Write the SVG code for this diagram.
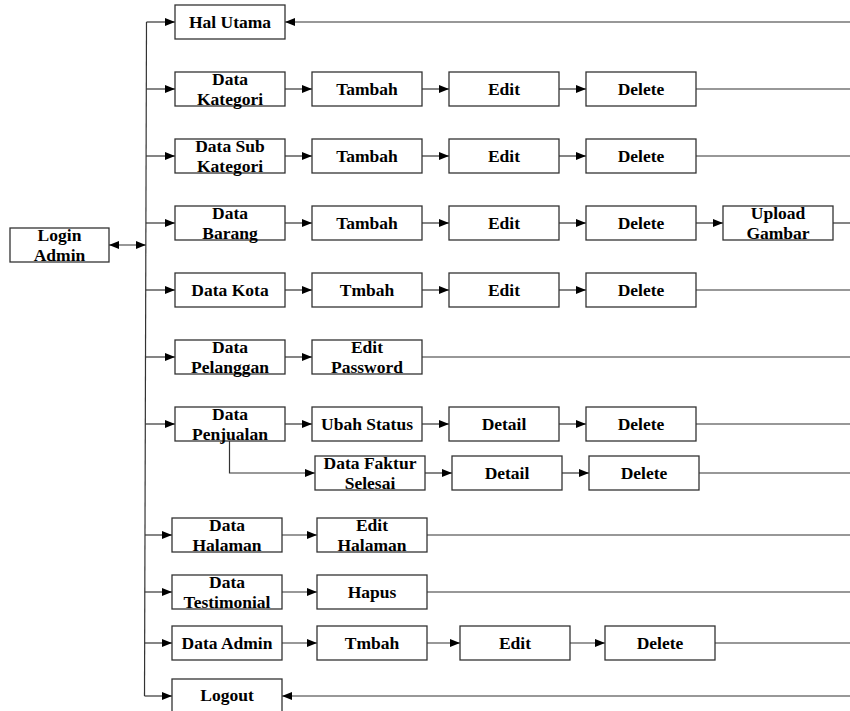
<svg xmlns="http://www.w3.org/2000/svg" width="850" height="711" viewBox="0 0 850 711">
<defs>
<marker id="arr" markerUnits="userSpaceOnUse" markerWidth="10" markerHeight="8" refX="10" refY="4" orient="auto-start-reverse">
<path d="M0,0 L10,4 L0,8 z" fill="#000"/>
</marker>
<style>
.box{fill:#fff;stroke:#333;stroke-width:1.3}
.t{font-family:"Liberation Serif","Times New Roman",serif;font-weight:bold;font-size:17.5px;text-anchor:middle;fill:#000}
.ln{fill:none;stroke:#333;stroke-width:1.2}
</style>
</defs>
<rect width="850" height="711" fill="#fff"/>
<g id="connectors">
<path class="ln" d="M146.5,22 L144.5,696"/>
<path class="ln" d="M146.5,22 H175" marker-end="url(#arr)"/>
<path class="ln" d="M146.3,89 H175" marker-end="url(#arr)"/>
<path class="ln" d="M146.1,156 H175" marker-end="url(#arr)"/>
<path class="ln" d="M145.9,223 H175" marker-end="url(#arr)"/>
<path class="ln" d="M109,245 H145.8" marker-start="url(#arr)" marker-end="url(#arr)"/>
<path class="ln" d="M145.7,290 H175" marker-end="url(#arr)"/>
<path class="ln" d="M145.5,357 H175" marker-end="url(#arr)"/>
<path class="ln" d="M145.3,424 H175" marker-end="url(#arr)"/>
<path class="ln" d="M145,535 H172" marker-end="url(#arr)"/>
<path class="ln" d="M144.8,592 H172" marker-end="url(#arr)"/>
<path class="ln" d="M144.7,643 H172" marker-end="url(#arr)"/>
<path class="ln" d="M144.5,696 H172" marker-end="url(#arr)"/>
<path class="ln" d="M850,22 H285" marker-end="url(#arr)"/>
<path class="ln" d="M850,696 H282" marker-end="url(#arr)"/>
<path class="ln" d="M285,89 H312" marker-end="url(#arr)"/>
<path class="ln" d="M422,89 H449" marker-end="url(#arr)"/>
<path class="ln" d="M559,89 H586" marker-end="url(#arr)"/>
<path class="ln" d="M696,89 H850"/>
<path class="ln" d="M285,156 H312" marker-end="url(#arr)"/>
<path class="ln" d="M422,156 H449" marker-end="url(#arr)"/>
<path class="ln" d="M559,156 H586" marker-end="url(#arr)"/>
<path class="ln" d="M696,156 H850"/>
<path class="ln" d="M285,223 H312" marker-end="url(#arr)"/>
<path class="ln" d="M422,223 H449" marker-end="url(#arr)"/>
<path class="ln" d="M559,223 H586" marker-end="url(#arr)"/>
<path class="ln" d="M696,223 H723" marker-end="url(#arr)"/>
<path class="ln" d="M833,223 H850"/>
<path class="ln" d="M285,290 H312" marker-end="url(#arr)"/>
<path class="ln" d="M422,290 H449" marker-end="url(#arr)"/>
<path class="ln" d="M559,290 H586" marker-end="url(#arr)"/>
<path class="ln" d="M696,290 H850"/>
<path class="ln" d="M285,357 H312" marker-end="url(#arr)"/>
<path class="ln" d="M422,357 H850"/>
<path class="ln" d="M285,424 H312" marker-end="url(#arr)"/>
<path class="ln" d="M422,424 H449" marker-end="url(#arr)"/>
<path class="ln" d="M559,424 H586" marker-end="url(#arr)"/>
<path class="ln" d="M696,424 H850"/>
<path class="ln" d="M229.5,441 V473 H315" marker-end="url(#arr)"/>
<path class="ln" d="M425,473 H452" marker-end="url(#arr)"/>
<path class="ln" d="M562,473 H589" marker-end="url(#arr)"/>
<path class="ln" d="M699,473 H850"/>
<path class="ln" d="M282,535 H317" marker-end="url(#arr)"/>
<path class="ln" d="M427,535 H850"/>
<path class="ln" d="M282,592 H317" marker-end="url(#arr)"/>
<path class="ln" d="M427,592 H850"/>
<path class="ln" d="M282,643 H317" marker-end="url(#arr)"/>
<path class="ln" d="M427,643 H460" marker-end="url(#arr)"/>
<path class="ln" d="M570,643 H605" marker-end="url(#arr)"/>
<path class="ln" d="M715,643 H850"/>
</g>
<g id="login-admin"><rect class="box" x="10" y="228" width="99" height="34"/><text class="t" x="59.5" y="241">Login</text><text class="t" x="59.5" y="260.5">Admin</text></g>
<g id="hal-utama"><rect class="box" x="175" y="5" width="110" height="34"/><text class="t" x="230" y="28">Hal Utama</text></g>
<g id="data-kategori"><rect class="box" x="175" y="72" width="110" height="34"/><text class="t" x="230" y="85">Data</text><text class="t" x="230" y="104.5">Kategori</text></g>
<g id="kat-tambah"><rect class="box" x="312" y="72" width="110" height="34"/><text class="t" x="367" y="95">Tambah</text></g>
<g id="kat-edit"><rect class="box" x="449" y="72" width="110" height="34"/><text class="t" x="504" y="95">Edit</text></g>
<g id="kat-delete"><rect class="box" x="586" y="72" width="110" height="34"/><text class="t" x="641" y="95">Delete</text></g>
<g id="data-sub-kategori"><rect class="box" x="175" y="139" width="110" height="34"/><text class="t" x="230" y="152">Data Sub</text><text class="t" x="230" y="171.5">Kategori</text></g>
<g id="sub-tambah"><rect class="box" x="312" y="139" width="110" height="34"/><text class="t" x="367" y="162">Tambah</text></g>
<g id="sub-edit"><rect class="box" x="449" y="139" width="110" height="34"/><text class="t" x="504" y="162">Edit</text></g>
<g id="sub-delete"><rect class="box" x="586" y="139" width="110" height="34"/><text class="t" x="641" y="162">Delete</text></g>
<g id="data-barang"><rect class="box" x="175" y="206" width="110" height="34"/><text class="t" x="230" y="219">Data</text><text class="t" x="230" y="238.5">Barang</text></g>
<g id="brg-tambah"><rect class="box" x="312" y="206" width="110" height="34"/><text class="t" x="367" y="229">Tambah</text></g>
<g id="brg-edit"><rect class="box" x="449" y="206" width="110" height="34"/><text class="t" x="504" y="229">Edit</text></g>
<g id="brg-delete"><rect class="box" x="586" y="206" width="110" height="34"/><text class="t" x="641" y="229">Delete</text></g>
<g id="brg-upload"><rect class="box" x="723" y="206" width="110" height="34"/><text class="t" x="778" y="219">Upload</text><text class="t" x="778" y="238.5">Gambar</text></g>
<g id="data-kota"><rect class="box" x="175" y="273" width="110" height="34"/><text class="t" x="230" y="296">Data Kota</text></g>
<g id="kota-tambah"><rect class="box" x="312" y="273" width="110" height="34"/><text class="t" x="367" y="296">Tmbah</text></g>
<g id="kota-edit"><rect class="box" x="449" y="273" width="110" height="34"/><text class="t" x="504" y="296">Edit</text></g>
<g id="kota-delete"><rect class="box" x="586" y="273" width="110" height="34"/><text class="t" x="641" y="296">Delete</text></g>
<g id="data-pelanggan"><rect class="box" x="175" y="340" width="110" height="34"/><text class="t" x="230" y="353">Data</text><text class="t" x="230" y="372.5">Pelanggan</text></g>
<g id="edit-password"><rect class="box" x="312" y="340" width="110" height="34"/><text class="t" x="367" y="353">Edit</text><text class="t" x="367" y="372.5">Password</text></g>
<g id="data-penjualan"><rect class="box" x="175" y="407" width="110" height="34"/><text class="t" x="230" y="420">Data</text><text class="t" x="230" y="439.5">Penjualan</text></g>
<g id="ubah-status"><rect class="box" x="312" y="407" width="110" height="34"/><text class="t" x="367" y="430">Ubah Status</text></g>
<g id="pjl-detail"><rect class="box" x="449" y="407" width="110" height="34"/><text class="t" x="504" y="430">Detail</text></g>
<g id="pjl-delete"><rect class="box" x="586" y="407" width="110" height="34"/><text class="t" x="641" y="430">Delete</text></g>
<g id="faktur-selesai"><rect class="box" x="315" y="456" width="110" height="34"/><text class="t" x="370" y="469">Data Faktur</text><text class="t" x="370" y="488.5">Selesai</text></g>
<g id="fkt-detail"><rect class="box" x="452" y="456" width="110" height="34"/><text class="t" x="507" y="479">Detail</text></g>
<g id="fkt-delete"><rect class="box" x="589" y="456" width="110" height="34"/><text class="t" x="644" y="479">Delete</text></g>
<g id="data-halaman"><rect class="box" x="172" y="518" width="110" height="34"/><text class="t" x="227" y="531">Data</text><text class="t" x="227" y="550.5">Halaman</text></g>
<g id="edit-halaman"><rect class="box" x="317" y="518" width="110" height="34"/><text class="t" x="372" y="531">Edit</text><text class="t" x="372" y="550.5">Halaman</text></g>
<g id="data-testimonial"><rect class="box" x="172" y="575" width="110" height="34"/><text class="t" x="227" y="588">Data</text><text class="t" x="227" y="607.5">Testimonial</text></g>
<g id="hapus"><rect class="box" x="317" y="575" width="110" height="34"/><text class="t" x="372" y="598">Hapus</text></g>
<g id="data-admin"><rect class="box" x="172" y="626" width="110" height="34"/><text class="t" x="227" y="649">Data Admin</text></g>
<g id="adm-tambah"><rect class="box" x="317" y="626" width="110" height="34"/><text class="t" x="372" y="649">Tmbah</text></g>
<g id="adm-edit"><rect class="box" x="460" y="626" width="110" height="34"/><text class="t" x="515" y="649">Edit</text></g>
<g id="adm-delete"><rect class="box" x="605" y="626" width="110" height="34"/><text class="t" x="660" y="649">Delete</text></g>
<g id="logout"><rect class="box" x="172" y="679" width="110" height="36"/><text class="t" x="227" y="701">Logout</text></g>
</svg>
